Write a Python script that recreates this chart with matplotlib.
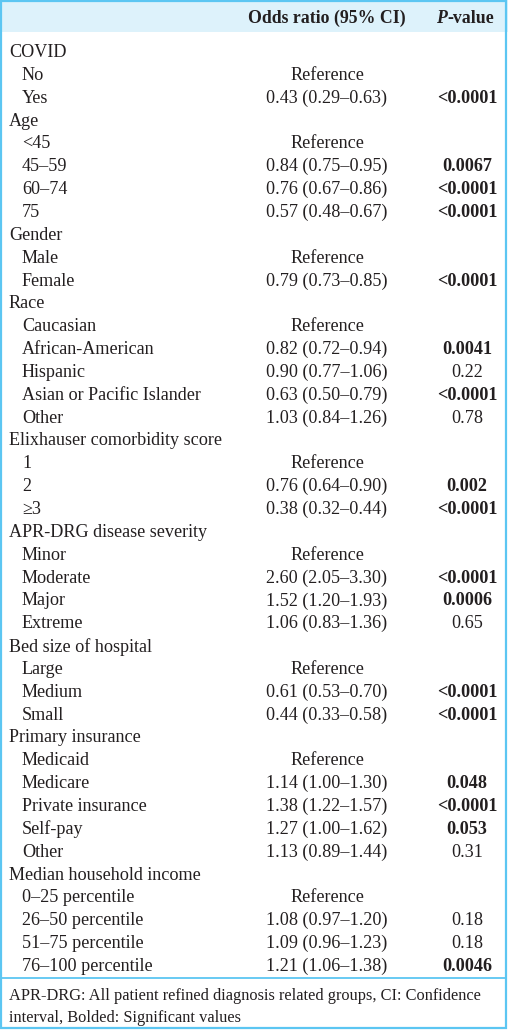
import matplotlib.pyplot as plt
from matplotlib.patches import Rectangle

# Table content
rows = [
    ("COVID", None, None, False),
    ("No", "Reference", "", False),
    ("Yes", "0.43 (0.29–0.63)", "<0.0001", True),
    ("Age", None, None, False),
    ("<45", "Reference", "", False),
    ("45–59", "0.84 (0.75–0.95)", "0.0067", True),
    ("60–74", "0.76 (0.67–0.86)", "<0.0001", True),
    ("75", "0.57 (0.48–0.67)", "<0.0001", True),
    ("Gender", None, None, False),
    ("Male", "Reference", "", False),
    ("Female", "0.79 (0.73–0.85)", "<0.0001", True),
    ("Race", None, None, False),
    ("Caucasian", "Reference", "", False),
    ("African-American", "0.82 (0.72–0.94)", "0.0041", True),
    ("Hispanic", "0.90 (0.77–1.06)", "0.22", False),
    ("Asian or Pacific Islander", "0.63 (0.50–0.79)", "<0.0001", True),
    ("Other", "1.03 (0.84–1.26)", "0.78", False),
    ("Elixhauser comorbidity score", None, None, False),
    ("1", "Reference", "", False),
    ("2", "0.76 (0.64–0.90)", "0.002", True),
    ("≥3", "0.38 (0.32–0.44)", "<0.0001", True),
    ("APR-DRG disease severity", None, None, False),
    ("Minor", "Reference", "", False),
    ("Moderate", "2.60 (2.05–3.30)", "<0.0001", True),
    ("Major", "1.52 (1.20–1.93)", "0.0006", True),
    ("Extreme", "1.06 (0.83–1.36)", "0.65", False),
    ("Bed size of hospital", None, None, False),
    ("Large", "Reference", "", False),
    ("Medium", "0.61 (0.53–0.70)", "<0.0001", True),
    ("Small", "0.44 (0.33–0.58)", "<0.0001", True),
    ("Primary insurance", None, None, False),
    ("Medicaid", "Reference", "", False),
    ("Medicare", "1.14 (1.00–1.30)", "0.048", True),
    ("Private insurance", "1.38 (1.22–1.57)", "<0.0001", True),
    ("Self-pay", "1.27 (1.00–1.62)", "0.053", True),
    ("Other", "1.13 (0.89–1.44)", "0.31", False),
    ("Median household income", None, None, False),
    ("0–25 percentile", "Reference", "", False),
    ("26–50 percentile", "1.08 (0.97–1.20)", "0.18", False),
    ("51–75 percentile", "1.09 (0.96–1.23)", "0.18", False),
    ("76–100 percentile", "1.21 (1.06–1.38)", "0.0046", True),
]
footnote = ["APR-DRG: All patient refined diagnosis related groups, CI: Confidence",
            "interval, Bolded: Significant values"]

W, H = 508, 1030
border = "#5cc6f2"
header_bg = "#ddf2fb"
font = "Liberation Serif"
fs = 13.1

fig = plt.figure(figsize=(W / 100, H / 100), dpi=100)
ax = fig.add_axes([0, 0, 1, 1])
ax.set_xlim(0, W)
ax.set_ylim(H, 0)
ax.axis("off")

# header band
ax.add_patch(Rectangle((0, 0), W, 32, facecolor=header_bg, edgecolor="none"))
# outer border and footnote separator
ax.add_patch(Rectangle((1, 1), W - 3, H - 3, facecolor="none",
                       edgecolor=border, linewidth=1.6))
ax.plot([1, W - 2], [978, 978], color=border, linewidth=1.3)

txt = dict(fontfamily=font, fontsize=fs, color="#231f20", va="center")
hdr = dict(fontfamily=font, fontsize=12.8, color="#231f20", va="center",
           fontweight="bold")
ax.text(327, 18.5, "Odds ratio (95% CI)", ha="center", **hdr)
ax.text(447, 18.5, "P", ha="right", fontstyle="italic", **hdr)
ax.text(447, 18.5, "-value", ha="left", **hdr)

y0, dy = 52.5, 22.85
for i, (label, ort, p, bold) in enumerate(rows):
    y = y0 + i * dy
    if ort is None:
        ax.text(9, y, label, ha="left", **txt)
        continue
    ax.text(22, y, label, ha="left", **txt)
    ax.text(327, y, ort, ha="center", **txt)
    if p:
        ax.text(467, y, p, ha="center",
                fontweight="bold" if bold else "normal", **txt)

for k, line in enumerate(footnote):
    ax.text(9, 996 + k * 21.5, line, ha="left", fontfamily=font,
            fontsize=11.8, color="#231f20", va="center")

fig.savefig("out.png", dpi=100)
